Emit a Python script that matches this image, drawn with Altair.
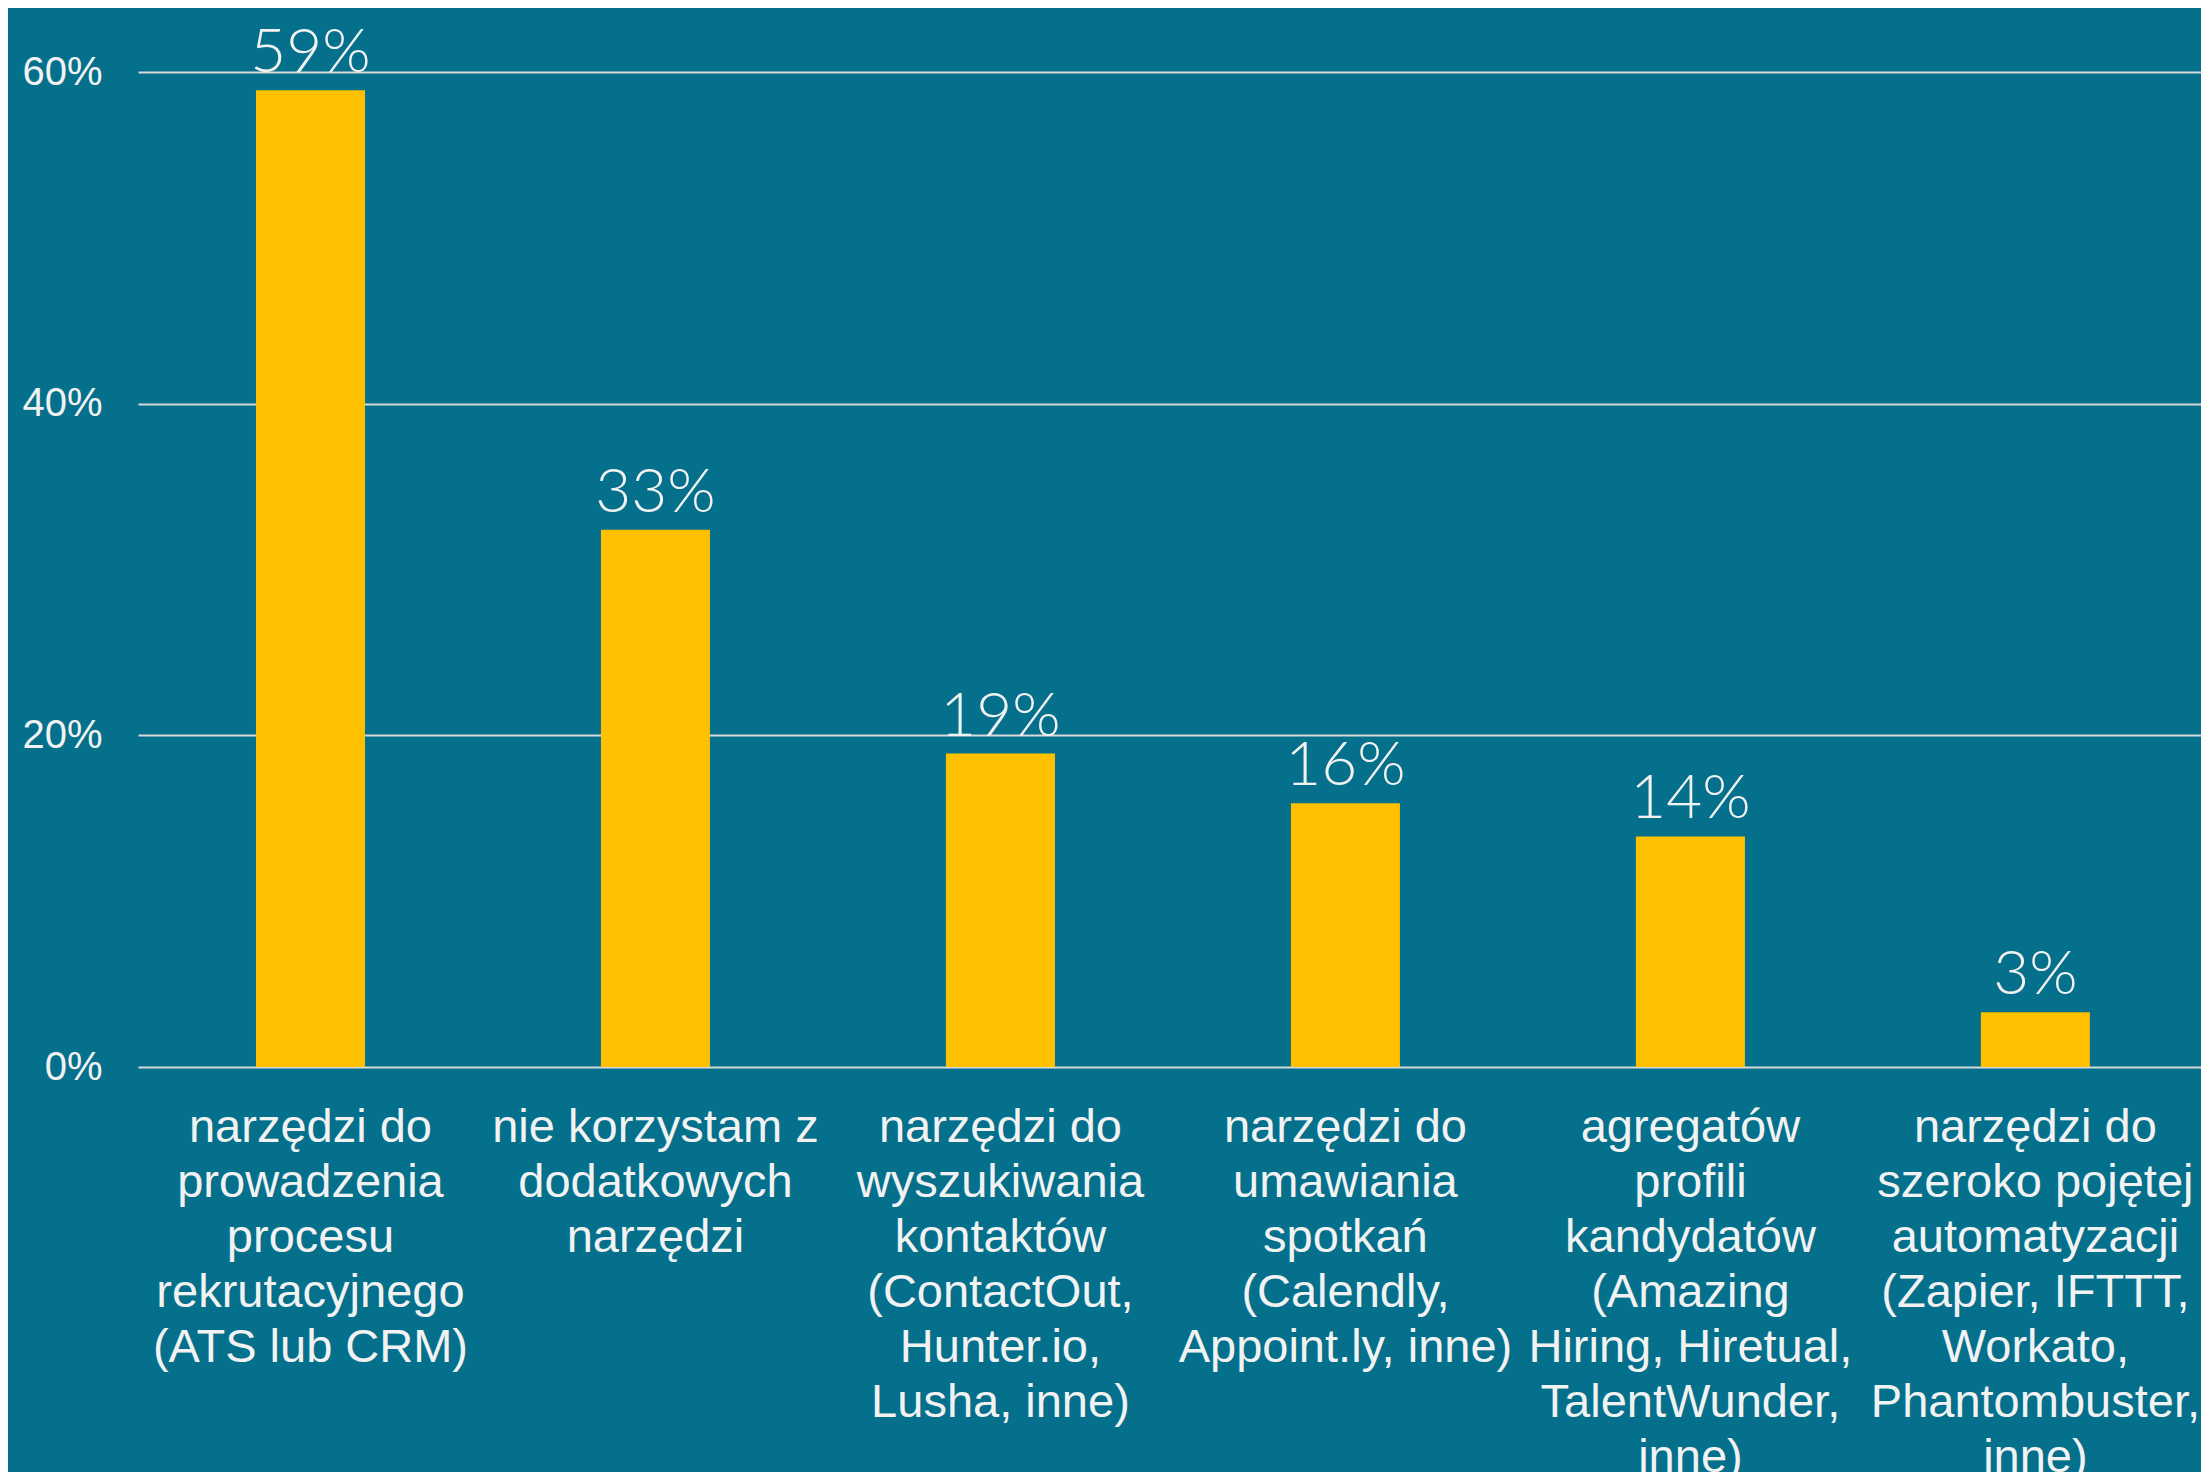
import altair as alt
import pandas as pd

categories = [
    "narzędzi do|prowadzenia|procesu|rekrutacyjnego|(ATS lub CRM)",
    "nie korzystam z|dodatkowych|narzędzi",
    "narzędzi do|wyszukiwania|kontaktów|(ContactOut,|Hunter.io,|Lusha, inne)",
    "narzędzi do|umawiania|spotkań|(Calendly,|Appoint.ly, inne)",
    "agregatów|profili|kandydatów|(Amazing|Hiring, Hiretual,|TalentWunder,|inne)",
    "narzędzi do|szeroko pojętej|automatyzacji|(Zapier, IFTTT,|Workato,|Phantombuster,|inne)",
]
values = [58.9, 32.4, 18.9, 15.9, 13.9, 3.3]
value_labels = ["59%", "33%", "19%", "16%", "14%", "3%"]
y_ticks = [0, 20, 40, 60]

df = pd.DataFrame({"cat": categories, "val": values, "lab": value_labels})

BG = "#04708C"
BAR = "#FFC000"
TXT = "#F2F2F2"

x = alt.X(
    "cat:N",
    sort=None,
    scale=alt.Scale(paddingInner=0.684, paddingOuter=0.332, align=0.515),
    axis=alt.Axis(
        title=None,
        labelAngle=0,
        labelLimit=0,
        labelFont="Liberation Sans",
        labelFontSize=47,
        labelLineHeight=55,
        labelColor=TXT,
        labelPadding=37,
        labelExpr="split(datum.label, '|')",
        ticks=False,
        domain=False,
        grid=False,
    ),
)
y = alt.Y(
    "val:Q",
    scale=alt.Scale(domain=[0, 60], nice=False),
    axis=alt.Axis(
        title=None,
        values=y_ticks,
        labelExpr="datum.value + '%'",
        labelFont="Liberation Sans",
        labelFontSize=40,
        labelColor=TXT,
        labelPadding=36,
        ticks=False,
        domain=False,
        grid=True,
        gridColor="#D9D9D9",
        gridWidth=2,
    ),
)

bars = alt.Chart(df).mark_bar(color=BAR).encode(x=x, y=y)
labels = alt.Chart(df).mark_text(
    font="Lato",
    fontWeight=300,
    fontSize=62,
    color=TXT,
    baseline="alphabetic",
    align="center",
    dy=-18,
).encode(x=x, y=y, text="lab:N")

chart = (
    alt.layer(bars, labels)
    .properties(
        width=2063,
        height=995,
        background=BG,
        padding={"left": 130, "top": 64, "right": 0, "bottom": 405},
        autosize=alt.AutoSizeParams(type="none"),
    )
    .configure_view(stroke=None)
)

chart.save("out.html", embed_options={"renderer": "svg", "actions": False})
